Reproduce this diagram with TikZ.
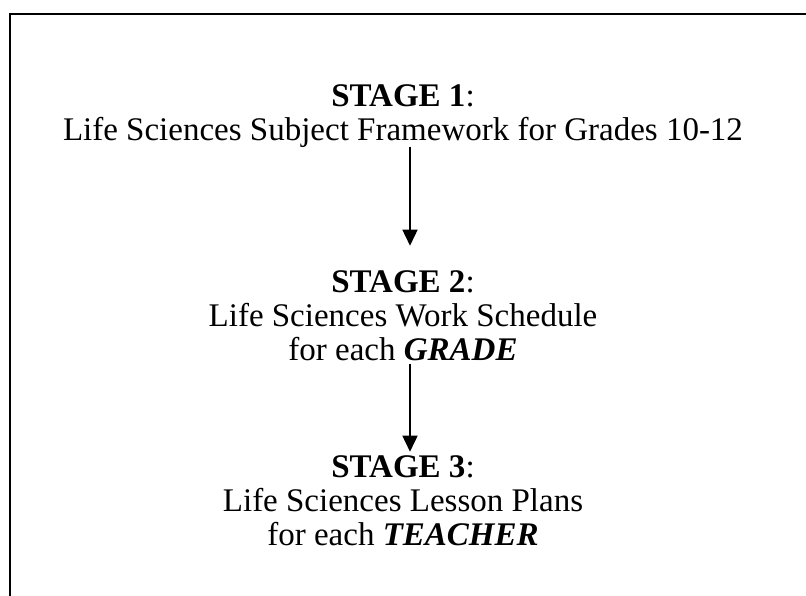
\documentclass[tikz,border=0pt]{standalone}
\usepackage{fontspec}
\setmainfont{Liberation Serif}
\usetikzlibrary{arrows.meta}
\tikzset{
  stagetext/.style={align=center, inner sep=0pt, font=\fontsize{33}{34}\selectfont},
  frameline/.style={line width=2.5pt},
  flowarrow/.style={line width=1.6pt, -{Triangle[length=16pt,width=15pt]}}
}
\begin{document}
\begin{tikzpicture}[x=1pt,y=-1pt]
\useasboundingbox (0,0) rectangle (806,596);
\draw[frameline] (806,14) -- (10,14) -- (10,596);
\node[stagetext] (s1) at (403,116) {\textbf{STAGE 1}:\\Life Sciences Subject Framework for Grades 10-12};
\node[stagetext] (s2) at (403,316) {\textbf{STAGE 2}:\\Life Sciences Work Schedule\\for each \textbf{\textit{GRADE}}};
\node[stagetext] (s3) at (403,501) {\textbf{STAGE 3}:\\Life Sciences Lesson Plans\\for each \textbf{\textit{TEACHER}}};
\draw[flowarrow] ([xshift=7pt,yshift=1pt]s1.south) -- ([xshift=7pt,yshift=25pt]s2.north);
\draw[flowarrow] ([xshift=7pt,yshift=-3pt]s2.south) -- ([xshift=7pt,yshift=4pt]s3.north);
\end{tikzpicture}
\end{document}
